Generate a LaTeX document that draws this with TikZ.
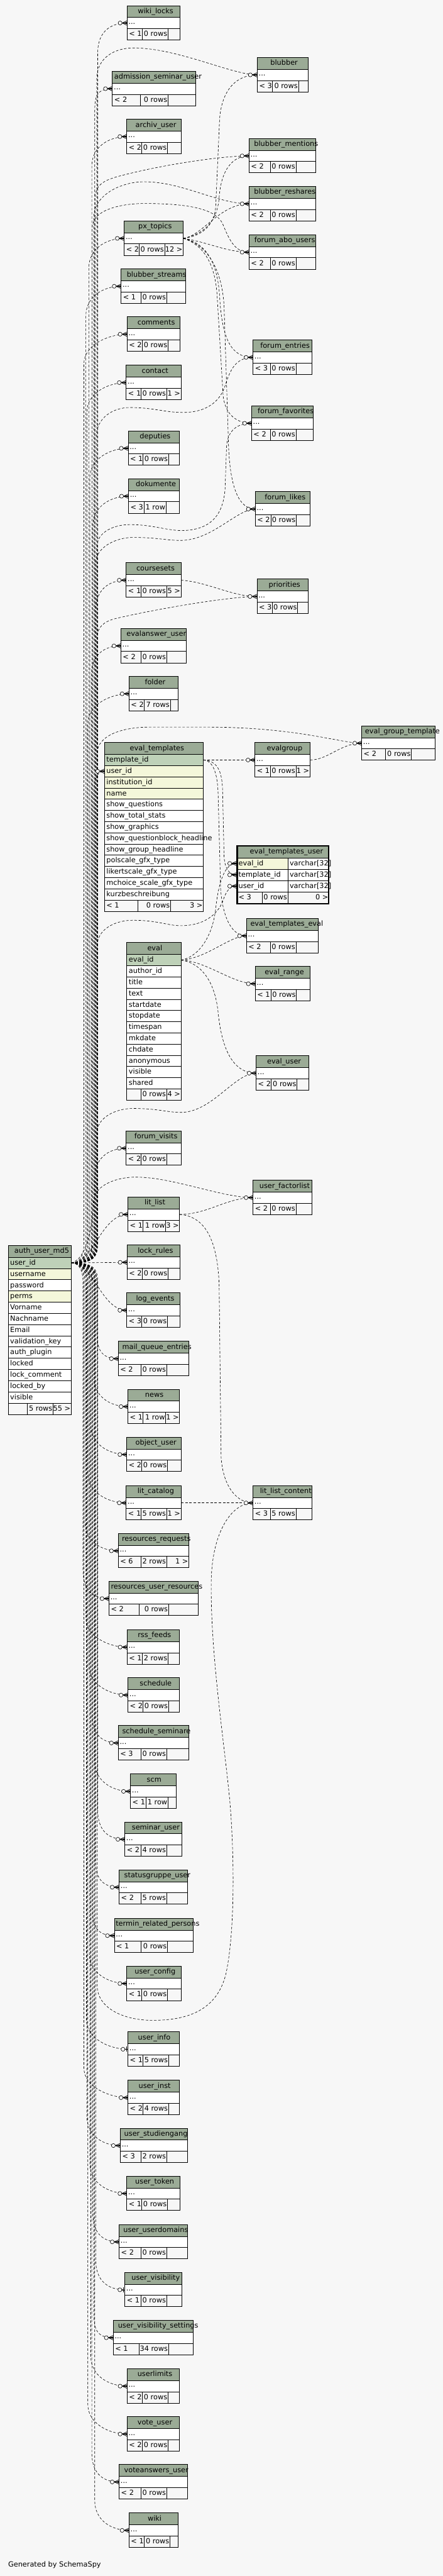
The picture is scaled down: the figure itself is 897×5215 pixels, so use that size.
\documentclass[tikz,border=0pt]{standalone}
\usepackage{fontspec}
\setmainfont{DejaVu Sans}
\usetikzlibrary{calc}
\definecolor{bgc}{HTML}{F7F7F7}
\definecolor{hdrc}{HTML}{9BAB96}
\definecolor{pkc}{HTML}{BED1B8}
\definecolor{idxc}{HTML}{F4F7DA}
\pgfdeclarelayer{bgl}
\pgfdeclarelayer{edges}
\pgfsetlayers{bgl,edges,main}
\tikzset{
  txt/.style={inner sep=0pt, outer sep=0pt, font=\fontsize{14.4}{16}\selectfont},
  hdr/.style={draw, line width=0.9pt, fill=hdrc, inner sep=0pt, outer sep=0pt, minimum height=24pt},
  rowbox/.style={draw, line width=0.9pt, fill=white, inner sep=0pt, outer sep=0pt, minimum height=22.5pt},
  footbox/.style={draw, line width=0.9pt, fill=bgc, inner sep=0pt, outer sep=0pt, minimum height=23pt},
  tline/.style={line width=0.9pt},
  rel/.style={draw, line width=0.8pt, dash pattern=on 5pt off 3.5pt},
  crowodot/.pic={
    \draw[line width=0.8pt, fill=bgc] (-14pt,0pt) circle (4pt);
    \draw[line width=0.9pt] (-10pt,0pt) -- (0pt,4.5pt) (-10pt,0pt) -- (0pt,-4.5pt) (-10pt,0pt) -- (0pt,0pt);
    \fill (-10pt,0pt) -- (0pt,2pt) -- (0pt,-2pt) -- cycle;},
  teeodot/.pic={
    \draw[line width=0.8pt, fill=bgc] (-10pt,0pt) circle (4pt);
    \draw[line width=0.8pt] (-6pt,0pt) -- (0pt,0pt);
    \draw[line width=1.8pt] (-2.5pt,-5pt) -- (-2.5pt,5pt);}
}
% footer: id, x1, top, x2, c1, c2, a, b, c
\newcommand\tfoot[9]{%
  \node[footbox, anchor=north west, minimum width={(#4-#2)*1pt}] (#1-f) at (#2,#3) {};
  \draw[tline] (#5,#3) -- (#5,{#3+23}) (#6,#3) -- (#6,{#3+23});
  \node[txt, anchor=base west] (#1-fa) at ({#2+4},{#3+15.5}) {#7};
  \node[txt, anchor=base east] (#1-fb) at ({#6-1.5},{#3+15.5}) {#8};
  \node[txt, anchor=base east] (#1-fc) at ({#4-1.5},{#3+15.5}) {#9};}
% table: id, x1, top, x2, title, titlex, c1, c2, {a}{b}{c}
\newcommand\dbtable[9]{%
  \node[hdr, anchor=north west, minimum width={(#4-#2)*1pt}] (#1-h) at (#2,#3) {};
  \node[txt, anchor=base west] (#1-t) at (#6,{#3+16}) {#5};
  \node[rowbox, anchor=north west, minimum width={(#4-#2)*1pt}] (#1-r) at (#2,{#3+24}) {};
  \node[txt, anchor=base west] (#1-d) at ({#2+3},{#3+37.5}) {...};
  \pgfmathsetmacro\ftop{#3+46.5}%
  \pgfmathsetmacro\rowy{#3+35.25}%
  \expandafter\xdef\csname ty@#1\endcsname{\rowy}%
  \expandafter\xdef\csname tx@#1\endcsname{#2}%
  \tfoot{#1}{#2}{\ftop}{#4}{#7}{#8}#9}
% big row: id, x1, x2, top, height, text, fill
\newcommand\bigrow[7]{%
  \node[rowbox, fill=#7, anchor=north west, minimum width={(#3-#2)*1pt}, minimum height=#5pt] (#1) at (#2,#4) {};
  \node[txt, anchor=base west] (#1-t) at ({#2+4},{#4+15.5}) {#6};}
\newcommand\authUp[2]{%
  \pgfmathsetmacro\edgeY{\csname ty@#1\endcsname}%
  \pgfmathsetmacro\edgeX{\csname tx@#1\endcsname}%
  \pgfmathsetmacro\edgeYa{\edgeY+60}%
  \pgfmathsetmacro\edgeYb{\edgeY+22}%
  \pgfmathsetmacro\edgeXb{\edgeX-38}%
  \draw[rel] (auth-uid.east) .. controls ({#2-12},2556.65) and (#2,2548) .. (#2,2518) -- (#2,\edgeYa) .. controls (#2,\edgeYb) and (\edgeXb,\edgeY) .. (#1-r.west);}
\newcommand\authDown[2]{%
  \pgfmathsetmacro\edgeY{\csname ty@#1\endcsname}%
  \pgfmathsetmacro\edgeX{\csname tx@#1\endcsname}%
  \pgfmathsetmacro\edgeYa{\edgeY-60}%
  \pgfmathsetmacro\edgeYb{\edgeY-22}%
  \pgfmathsetmacro\edgeXb{\edgeX-38}%
  \draw[rel] (auth-uid.east) .. controls ({#2-12},2556.65) and (#2,2565) .. (#2,2595) -- (#2,\edgeYa) .. controls (#2,\edgeYb) and (\edgeXb,\edgeY) .. (#1-r.west);}
\newcommand\authArc[3]{%
  \draw[rel] (auth-uid.east) .. controls ({#1-12},2556.65) and (#1,2548) .. (#1,2518) #2 (#3);}
\begin{document}
\begin{tikzpicture}[x=1pt,y=-1pt]
\useasboundingbox (0,0) rectangle (897,5215);
\begin{pgfonlayer}{bgl}
\fill[bgc] (0,0) rectangle (897,5215);
\end{pgfonlayer}

% ---------- small tables ----------
\dbtable{wikilocks}{257.4}{11.3}{365.0}{wiki\_locks}{279.2}{287.8}{340.4}{{< 1}{0 rows}{}}
\dbtable{blubber}{521.2}{116.3}{624.1}{blubber}{548.0}{552.0}{604.7}{{< 3}{0 rows}{}}
\dbtable{admission}{227.7}{144.3}{395.9}{admission\_seminar\_user}{231.7}{284.3}{340.4}{{< 2}{0 rows}{}}
\dbtable{archiv}{256.9}{241.3}{366.7}{archiv\_user}{274.6}{287.2}{339.2}{{< 2}{0 rows}{}}
\dbtable{bmentions}{504.6}{280.3}{639.6}{blubber\_mentions}{514.9}{547.5}{599.5}{{< 2}{0 rows}{}}
\dbtable{breshares}{504.6}{377.3}{639.6}{blubber\_reshares}{514.9}{547.5}{599.5}{{< 2}{0 rows}{}}
\dbtable{pxtopics}{251.7}{447.3}{371.3}{px\_topics}{280.3}{281.5}{333.5}{{< 2}{0 rows}{12 >}}
\dbtable{foabo}{504.6}{475.3}{639.6}{forum\_abo\_users}{515.4}{547.5}{599.5}{{< 2}{0 rows}{}}
\dbtable{bstreams}{245.4}{544.3}{375.9}{blubber\_streams}{256.9}{285.5}{337.5}{{< 1}{0 rows}{}}
\dbtable{comments}{257.4}{641.3}{365.0}{comments}{278.6}{288.3}{340.4}{{< 2}{0 rows}{}}
\dbtable{contact}{255.7}{739.3}{366.7}{contact}{287.2}{285.5}{337.5}{{< 1}{0 rows}{1 >}}
\dbtable{foentries}{512.6}{688.3}{632.2}{forum\_entries}{527.5}{547.5}{599.5}{{< 3}{0 rows}{}}
\dbtable{fofav}{509.7}{821.7}{635.0}{forum\_favorites}{522.3}{547.5}{599.5}{{< 2}{0 rows}{}}
\dbtable{deputies}{259.7}{872.3}{363.3}{deputies}{283.2}{289.5}{341.5}{{< 1}{0 rows}{}}
\dbtable{dokumente}{260.3}{969.3}{363.3}{dokumente}{275.2}{291.8}{336.4}{{< 3}{1 row}{}}
\dbtable{folikes}{517.2}{995.3}{628.1}{forum\_likes}{536.6}{548.6}{600.1}{{< 2}{0 rows}{}}
\dbtable{coursesets}{255.7}{1139.3}{366.7}{coursesets}{276.3}{285.5}{337.5}{{< 1}{0 rows}{5 >}}
\dbtable{priorities}{520.6}{1172.3}{624.1}{priorities}{544.6}{551.5}{603.0}{{< 3}{0 rows}{}}
\dbtable{evalanswer}{244.9}{1272.3}{377.0}{evalanswer\_user}{256.3}{285.5}{337.5}{{< 2}{0 rows}{}}
\dbtable{folder}{261.4}{1369.3}{361.0}{folder}{293.5}{292.3}{345.0}{{< 2}{7 rows}{}}
\dbtable{egt}{732.8}{1469.3}{881.0}{eval\_group\_template}{739.7}{781.5}{833.5}{{< 2}{0 rows}{}}
\dbtable{evalgroup}{516.6}{1503.3}{628.1}{evalgroup}{540.6}{547.5}{599.5}{{< 1}{0 rows}{1 >}}
\dbtable{ete}{499.4}{1859.3}{644.7}{eval\_templates\_eval}{507.4}{547.5}{599.5}{{< 2}{0 rows}{}}
\dbtable{evalrange}{517.2}{1956.3}{627.6}{eval\_range}{536.6}{548.6}{600.7}{{< 1}{0 rows}{}}
\dbtable{evaluser}{518.9}{2137.3}{625.3}{eval\_user}{541.2}{549.2}{601.8}{{< 2}{0 rows}{}}
\dbtable{forumvisits}{255.7}{2289.3}{366.7}{forum\_visits}{272.3}{285.5}{337.5}{{< 2}{0 rows}{}}
\dbtable{ufactor}{512.6}{2389.3}{632.2}{user\_factorlist}{525.7}{547.5}{599.5}{{< 2}{0 rows}{}}
\dbtable{litlist}{259.2}{2423.3}{363.8}{lit\_list}{292.9}{289.5}{335.8}{{< 1}{1 row}{3 >}}
\dbtable{lockrules}{257.4}{2520.3}{365.0}{lock\_rules}{279.2}{288.3}{340.4}{{< 2}{0 rows}{}}
\dbtable{logevents}{256.9}{2617.3}{365.0}{log\_events}{275.7}{287.2}{339.2}{{< 3}{0 rows}{}}
\dbtable{mailq}{239.7}{2715.3}{382.7}{mail\_queue\_entries}{247.7}{285.5}{337.5}{{< 2}{0 rows}{}}
\dbtable{news}{259.2}{2812.3}{363.8}{news}{294.0}{289.5}{335.8}{{< 1}{1 row}{1 >}}
\dbtable{objectuser}{256.9}{2909.3}{366.7}{object\_user}{274.6}{287.2}{339.2}{{< 2}{0 rows}{}}
\dbtable{litcatalog}{255.7}{3007.3}{366.7}{lit\_catalog}{278.6}{285.5}{337.5}{{< 1}{5 rows}{1 >}}
\dbtable{llc}{512.6}{3007.3}{632.2}{lit\_list\_content}{526.9}{547.5}{599.5}{{< 3}{5 rows}{}}
\dbtable{resreq}{239.7}{3104.3}{382.7}{resources\_requests}{247.1}{285.5}{337.5}{{< 6}{2 rows}{1 >}}
\dbtable{resuser}{220.8}{3201.0}{401.0}{resources\_user\_resources}{224.8}{281.5}{341.5}{{< 2}{0 rows}{}}
\dbtable{rss}{257.4}{3299.3}{363.8}{rss\_feeds}{279.2}{288.3}{340.4}{{< 1}{2 rows}{}}
\dbtable{schedule}{259.2}{3396.3}{363.8}{schedule}{283.2}{289.5}{341.5}{{< 2}{0 rows}{}}
\dbtable{schedsem}{239.7}{3493.3}{382.7}{schedule\_seminare}{247.7}{285.5}{337.5}{{< 3}{0 rows}{}}
\dbtable{scm}{264.3}{3591.3}{357.0}{scm}{297.5}{295.2}{340.4}{{< 1}{1 row}{}}
\dbtable{seminaruser}{252.9}{3688.3}{369.0}{seminar\_user}{267.2}{285.5}{337.5}{{< 2}{4 rows}{}}
\dbtable{statusgr}{241.4}{3785.3}{379.9}{statusgruppe\_user}{251.7}{285.5}{337.5}{{< 2}{5 rows}{}}
\dbtable{termin}{231.7}{3883.3}{391.9}{termin\_related\_persons}{234.6}{285.5}{339.2}{{< 1}{0 rows}{}}
\dbtable{userconfig}{256.9}{3980.3}{366.7}{user\_config}{272.9}{287.2}{339.2}{{< 1}{0 rows}{}}
\dbtable{userinfo}{259.2}{4113.3}{363.8}{user\_info}{279.7}{289.5}{341.5}{{< 1}{5 rows}{}}
\dbtable{userinst}{259.2}{4211.3}{363.8}{user\_inst}{280.9}{289.5}{341.5}{{< 2}{4 rows}{}}
\dbtable{userstud}{243.7}{4308.3}{379.3}{user\_studiengang}{251.7}{285.5}{337.5}{{< 3}{2 rows}{}}
\dbtable{usertoken}{256.9}{4405.3}{365.0}{user\_token}{274.0}{287.2}{339.2}{{< 1}{0 rows}{}}
\dbtable{userdomains}{241.4}{4503.3}{379.9}{user\_userdomains}{250.0}{285.5}{337.5}{{< 2}{0 rows}{}}
\dbtable{uservis}{252.9}{4600.3}{369.0}{user\_visibility}{266.6}{285.5}{337.5}{{< 1}{0 rows}{}}
\dbtable{uservisset}{229.4}{4697.3}{391.9}{user\_visibility\_settings}{239.1}{281.5}{341.5}{{< 1}{34 rows}{}}
\dbtable{userlimits}{257.4}{4795.3}{363.8}{userlimits}{278.6}{288.3}{340.4}{{< 2}{0 rows}{}}
\dbtable{voteuser}{257.4}{4892.3}{363.8}{vote\_user}{278.6}{288.3}{340.4}{{< 2}{0 rows}{}}
\dbtable{voteanswers}{241.4}{4989.3}{379.9}{voteanswers\_user}{251.7}{285.5}{337.5}{{< 2}{0 rows}{}}
\dbtable{wiki}{261.4}{5087.3}{361.0}{wiki}{299.2}{292.3}{344.4}{{< 1}{0 rows}{}}

% ---------- auth_user_md5 ----------
\node[hdr, anchor=north west, minimum width=127.6pt] (auth-h) at (16.6,2521.3) {};
\node[txt, anchor=base west] (auth-t) at (29.2,2537.3) {auth\_user\_md5};
\bigrow{auth-uid}{16.6}{144.2}{2545.3}{22.7}{user\_id}{pkc}
\bigrow{auth-un}{16.6}{144.2}{2568.0}{22.7}{username}{idxc}
\bigrow{auth-pw}{16.6}{144.2}{2590.7}{22.7}{password}{white}
\bigrow{auth-pe}{16.6}{144.2}{2613.4}{22.7}{perms}{idxc}
\bigrow{auth-vn}{16.6}{144.2}{2636.1}{22.7}{Vorname}{white}
\bigrow{auth-nn}{16.6}{144.2}{2658.8}{22.7}{Nachname}{white}
\bigrow{auth-em}{16.6}{144.2}{2681.5}{22.7}{Email}{white}
\bigrow{auth-vk}{16.6}{144.2}{2704.2}{22.7}{validation\_key}{white}
\bigrow{auth-ap}{16.6}{144.2}{2726.9}{22.7}{auth\_plugin}{white}
\bigrow{auth-lo}{16.6}{144.2}{2749.6}{22.7}{locked}{white}
\bigrow{auth-lc}{16.6}{144.2}{2772.3}{22.7}{lock\_comment}{white}
\bigrow{auth-lb}{16.6}{144.2}{2795.0}{22.7}{locked\_by}{white}
\bigrow{auth-vi}{16.6}{144.2}{2817.7}{22.7}{visible}{white}
\tfoot{auth}{16.6}{2840.4}{144.2}{55.5}{107.6}{}{5 rows}{55 >}

% ---------- eval_templates ----------
\node[hdr, anchor=north west, minimum width=200.2pt] (et-h) at (211.7,1503.3) {};
\node[txt, anchor=base west] (et-t) at (263.2,1519.3) {eval\_templates};
\bigrow{et-tid}{211.7}{411.9}{1527.3}{22.65}{template\_id}{pkc}
\bigrow{et-uid}{211.7}{411.9}{1549.95}{22.65}{user\_id}{idxc}
\bigrow{et-iid}{211.7}{411.9}{1572.6}{22.65}{institution\_id}{idxc}
\bigrow{et-nm}{211.7}{411.9}{1595.25}{22.65}{name}{idxc}
\bigrow{et-r4}{211.7}{411.9}{1617.9}{22.65}{show\_questions}{white}
\bigrow{et-r5}{211.7}{411.9}{1640.55}{22.65}{show\_total\_stats}{white}
\bigrow{et-r6}{211.7}{411.9}{1663.2}{22.65}{show\_graphics}{white}
\bigrow{et-r7}{211.7}{411.9}{1685.85}{22.65}{show\_questionblock\_headline}{white}
\bigrow{et-r8}{211.7}{411.9}{1708.5}{22.65}{show\_group\_headline}{white}
\bigrow{et-r9}{211.7}{411.9}{1731.15}{22.65}{polscale\_gfx\_type}{white}
\bigrow{et-r10}{211.7}{411.9}{1753.8}{22.65}{likertscale\_gfx\_type}{white}
\bigrow{et-r11}{211.7}{411.9}{1776.45}{22.65}{mchoice\_scale\_gfx\_type}{white}
\bigrow{et-r12}{211.7}{411.9}{1799.1}{22.65}{kurzbeschreibung}{white}
\tfoot{et}{211.7}{1821.75}{411.9}{279.2}{345.5}{< 1}{0 rows}{3 >}

% ---------- eval ----------
\node[hdr, anchor=north west, minimum width=109.8pt] (ev-h) at (256.9,1908.3) {};
\node[txt, anchor=base west] (ev-t) at (298.6,1924.3) {eval};
\bigrow{ev-eid}{256.9}{366.7}{1932.3}{22.67}{eval\_id}{pkc}
\bigrow{ev-r1}{256.9}{366.7}{1954.97}{22.67}{author\_id}{white}
\bigrow{ev-r2}{256.9}{366.7}{1977.63}{22.67}{title}{white}
\bigrow{ev-r3}{256.9}{366.7}{2000.3}{22.67}{text}{white}
\bigrow{ev-r4}{256.9}{366.7}{2022.97}{22.67}{startdate}{white}
\bigrow{ev-r5}{256.9}{366.7}{2045.63}{22.67}{stopdate}{white}
\bigrow{ev-r6}{256.9}{366.7}{2068.3}{22.67}{timespan}{white}
\bigrow{ev-r7}{256.9}{366.7}{2090.97}{22.67}{mkdate}{white}
\bigrow{ev-r8}{256.9}{366.7}{2113.63}{22.67}{chdate}{white}
\bigrow{ev-r9}{256.9}{366.7}{2136.3}{22.67}{anonymous}{white}
\bigrow{ev-r10}{256.9}{366.7}{2158.97}{22.67}{visible}{white}
\bigrow{ev-r11}{256.9}{366.7}{2181.63}{22.67}{shared}{white}
\tfoot{ev}{256.9}{2204.3}{366.7}{285.5}{337.5}{}{0 rows}{4 >}

% ---------- eval_templates_user ----------
\node[hdr, anchor=north west, minimum width=187.1pt, minimum height=24.8pt] (etu-h) at (479.4,1711.7) {};
\node[txt, anchor=base west] (etu-t) at (506.3,1728) {eval\_templates\_user};
\bigrow{etu-eid}{479.4}{583}{1736.5}{23}{eval\_id}{idxc}
\bigrow{etu-eidT}{583}{666.5}{1736.5}{23}{varchar[32]}{white}
\bigrow{etu-tid}{479.4}{583}{1759.5}{23}{template\_id}{white}
\bigrow{etu-tidT}{583}{666.5}{1759.5}{23}{varchar[32]}{white}
\bigrow{etu-uid}{479.4}{583}{1782.5}{23}{user\_id}{white}
\bigrow{etu-uidT}{583}{666.5}{1782.5}{23}{varchar[32]}{white}
\tfoot{etu}{479.4}{1805.5}{666.5}{531.5}{583}{< 3}{0 rows}{0 >}
\draw[line width=2.8pt] (480.6,1712.6) rectangle (665.6,1829.4);

\node[txt, anchor=base west] (gen) at (16.6,5197) {Generated by SchemaSpy};

% ---------- connectors ----------
\begin{pgfonlayer}{edges}
% auth -> left column, above
\authUp{wikilocks}{198}
\authUp{admission}{192}
\authUp{archiv}{186}
\authUp{pxtopics}{180}
\authUp{bstreams}{174}
\authUp{comments}{170}
\authUp{contact}{176}
\authUp{deputies}{182}
\authUp{dokumente}{188}
\authUp{coursesets}{194}
\authUp{evalanswer}{185}
\authUp{folder}{178}
\authUp{forumvisits}{192}
\draw[rel] (auth-uid.east) .. controls (178,2556.65) and (190,2548) .. (190,2518) -- (190,1610) .. controls (190,1580) and (195,1561.3) .. (et-uid.west);
% auth -> near tables
\draw[rel] (auth-uid.east) .. controls (190,2556.65) and (205,2458.55) .. (litlist-r.west);
\draw[rel] (auth-uid.east) -- (lockrules-r.west);
\draw[rel] (auth-uid.east) .. controls (190,2556.65) and (205,2652.55) .. (logevents-r.west);
% auth -> left column, below
\authDown{mailq}{196}
\authDown{news}{190}
\authDown{objectuser}{184}
\authDown{litcatalog}{178}
\authDown{resreq}{172}
\authDown{resuser}{168}
\authDown{rss}{174}
\authDown{schedule}{180}
\authDown{schedsem}{186}
\authDown{scm}{192}
\authDown{seminaruser}{198}
\authDown{statusgr}{193}
\authDown{termin}{187}
\authDown{userconfig}{181}
\authDown{userinfo}{175}
\authDown{userinst}{170}
\authDown{userstud}{176}
\authDown{usertoken}{182}
\authDown{userdomains}{188}
\authDown{uservis}{194}
\authDown{uservisset}{190}
\authDown{userlimits}{184}
\authDown{voteuser}{178}
\authDown{voteanswers}{186}
\authDown{wiki}{192}
% auth -> right column arcs
\authArc{196}{-- (196,160) .. controls (196,115) and (235,97) .. (270,97) .. controls (360,97) and (470,151.55) ..}{blubber-r.west}
\authArc{193}{-- (193,400) .. controls (193,375) and (210,365) .. (240,357) .. controls (330,333) and (450,315.55) ..}{bmentions-r.west}
\authArc{190}{-- (190,440) .. controls (190,395) and (245,368) .. (292,368) .. controls (370,368) and (440,412.55) ..}{breshares-r.west}
\authArc{187}{-- (187,460) .. controls (187,425) and (245,412) .. (292,412) .. controls (390,412) and (440,425) .. (452,455) .. controls (466,490) and (478,510.55) ..}{foabo-r.west}
\authArc{195}{-- (195,885) .. controls (195,845) and (230,825) .. (263,825) .. controls (310,825) and (335,835) .. (370,835) .. controls (420,835) and (448,812) .. (458,775) .. controls (468,745) and (480,723.55) ..}{foentries-r.west}
\authArc{197}{-- (197,1105) .. controls (197,1078) and (230,1062) .. (263,1062) .. controls (310,1062) and (340,1075) .. (372,1074) .. controls (425,1072) and (452,1045) .. (456,990) -- (459,905) .. controls (461,870) and (482,856.95) ..}{fofav-r.west}
\authArc{194}{-- (194,1140) .. controls (194,1108) and (235,1088) .. (269,1088) .. controls (320,1088) and (335,1094) .. (366,1094) .. controls (430,1094) and (480,1030.55) ..}{folikes-r.west}
\authArc{197}{-- (197,1290) .. controls (197,1270) and (210,1258) .. (235,1252) .. controls (330,1230) and (470,1207.55) ..}{priorities-r.west}
\authArc{197}{-- (197,1525) .. controls (197,1490) and (245,1472) .. (303,1472) -- (420,1472) .. controls (600,1472) and (690,1504.55) ..}{egt-r.west}
\authArc{197}{-- (197,1915) .. controls (197,1880) and (235,1863) .. (269,1863) .. controls (320,1863) and (340,1874) .. (366,1874) .. controls (420,1874) and (445,1845) .. (453,1820) .. controls (460,1800) and (468,1794) ..}{etu-uid.west}
\authArc{196}{-- (196,2295) .. controls (196,2262) and (235,2244) .. (269,2244) .. controls (320,2244) and (340,2252) .. (366,2252) .. controls (430,2252) and (475,2172.55) ..}{evaluser-r.west}
\draw[rel] (auth-uid.east) .. controls (178,2550) and (189,2470) .. (189,2435) .. controls (189,2400) and (235,2383) .. (275,2383) .. controls (350,2383) and (450,2424.55) .. (ufactor-r.west);
\draw[rel] (auth-uid.east) .. controls (185,2556.65) and (197,2570) .. (197,2600) -- (197,4020) .. controls (197,4065) and (250,4090) .. (309,4090) .. controls (380,4090) and (440,4070) .. (458,3995) .. controls (476,3910) and (475,3760) .. (466,3650) .. controls (455,3530) and (426,3350) .. (428,3200) .. controls (430,3100) and (470,3042.55) .. (llc-r.west);
% px_topics -> forum / blubber tables
\draw[rel] (pxtopics-r.east) .. controls (405,478) and (432,462) .. (437,420) -- (445,240) .. controls (450,180) and (480,151.55) .. (blubber-r.west);
\draw[rel] (pxtopics-r.east) .. controls (405,476) and (440,455) .. (444,400) .. controls (448,345) and (470,315.55) .. (bmentions-r.west);
\draw[rel] (pxtopics-r.east) .. controls (410,478) and (445,412.55) .. (breshares-r.west);
\draw[rel] (pxtopics-r.east) .. controls (420,490) and (460,510.55) .. (foabo-r.west);
\draw[rel] (pxtopics-r.east) .. controls (410,490) and (440,520) .. (445,600) .. controls (450,690) and (470,723.55) .. (foentries-r.west);
\draw[rel] (pxtopics-r.east) .. controls (410,495) and (436,530) .. (440,600) -- (452,800) .. controls (456,840) and (480,856.95) .. (fofav-r.west);
\draw[rel] (pxtopics-r.east) .. controls (420,495) and (450,545) .. (454,620) -- (463,900) .. controls (466,990) and (485,1030.55) .. (folikes-r.west);
% others
\draw[rel] (coursesets-r.east) .. controls (420,1178) and (470,1207.55) .. (priorities-r.west);
\draw[rel] (evalgroup-r.east) .. controls (665,1538.55) and (690,1504.55) .. (egt-r.west);
\draw[rel] (et-tid.east) -- (evalgroup-r.west);
\draw[rel] (et-tid.east) .. controls (440,1540) and (450,1560) .. (451,1600) -- (454,1735) .. controls (456,1760) and (465,1771) .. (etu-tid.west);
\draw[rel] (et-tid.east) .. controls (432,1540) and (441,1565) .. (442,1610) -- (447,1800) .. controls (452,1860) and (470,1894.55) .. (ete-r.west);
\draw[rel] (ev-eid.east) .. controls (400,1938) and (430,1900) .. (437,1840) .. controls (443,1785) and (455,1748) .. (etu-eid.west);
\draw[rel] (ev-eid.east) .. controls (420,1940) and (465,1894.55) .. (ete-r.west);
\draw[rel] (ev-eid.east) .. controls (420,1946) and (470,1991.55) .. (evalrange-r.west);
\draw[rel] (ev-eid.east) .. controls (410,1950) and (436,1990) .. (442,2050) .. controls (450,2130) and (475,2172.55) .. (evaluser-r.west);
\draw[rel] (litlist-r.east) .. controls (420,2458.55) and (460,2424.55) .. (ufactor-r.west);
\draw[rel] (litlist-r.east) .. controls (410,2462) and (440,2500) .. (444,2600) -- (448,2950) .. controls (452,3010) and (480,3042.55) .. (llc-r.west);
\draw[rel] (litcatalog-r.east) -- (llc-r.west);
\end{pgfonlayer}

% ---------- end markers ----------
\foreach \n in {wikilocks,blubber,admission,archiv,bmentions,breshares,pxtopics,foabo,bstreams,comments,contact,foentries,fofav,deputies,dokumente,folikes,coursesets,priorities,evalanswer,folder,egt,evalgroup,ete,evalrange,evaluser,forumvisits,ufactor,litlist,lockrules,logevents,mailq,news,objectuser,litcatalog,llc,resreq,resuser,rss,schedule,schedsem,scm,seminaruser,statusgr,termin,userconfig,userinst,userstud,usertoken,userdomains,uservisset,userlimits,voteuser,voteanswers,wiki}
  {\pic at (\n-r.west) {crowodot};}
\pic at (userinfo-r.west) {teeodot};
\pic at (uservis-r.west) {teeodot};
\pic at (et-uid.west) {crowodot};
\pic at (etu-eid.west) {crowodot};
\pic at (etu-tid.west) {crowodot};
\pic at (etu-uid.west) {crowodot};
\end{tikzpicture}
\end{document}
